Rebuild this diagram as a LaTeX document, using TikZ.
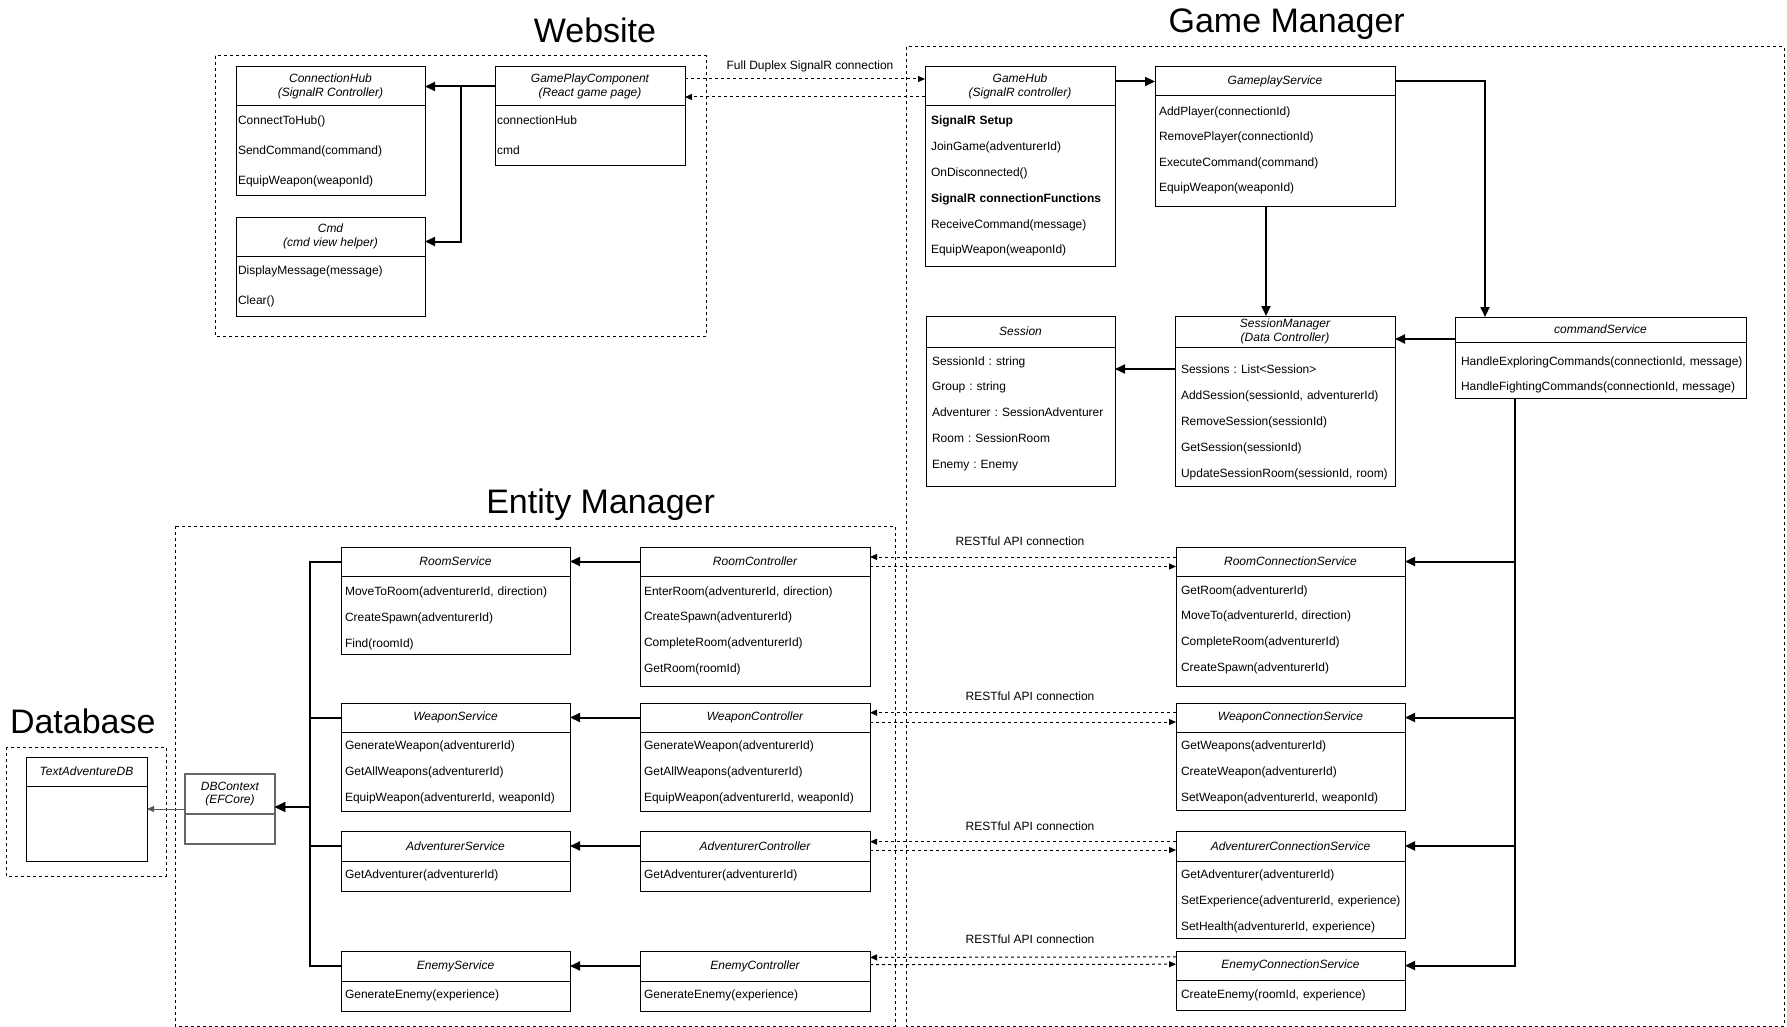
\documentclass[tikz,border=0pt]{standalone}
\usepackage{fontspec}
\setmainfont{Liberation Sans}
\usepackage{tikz}
\usetikzlibrary{arrows.meta}

\tikzset{
  rowtop/.store in=\rowtop, rowgap/.store in=\rowgap, rowpad/.store in=\rowpad,
  rowtop=18, rowgap=26, rowpad=4,
  classhead/.style={draw, line width=1pt, outer sep=0pt, inner sep=0pt, align=center,
    font=\fontsize{12}{13.5}\selectfont\itshape},
  classbody/.style={draw, line width=1pt, outer sep=0pt, inner sep=0pt},
  classrows/.style={inner sep=0pt, outer sep=0pt, align=left, text width=400pt,
    font=\fontsize{12}{\rowgap}\selectfont\frenchspacing},
  groupframe/.style={draw, line width=1pt, dash pattern=on 3pt off 3pt},
  grouptitle/.style={anchor=base, font=\fontsize{34}{40}\selectfont},
  linklabel/.style={font=\fontsize{12}{14}\selectfont},
  thickarrow/.style={line width=2pt, -{Triangle[length=10pt,width=9pt]}},
  duplexarrow/.style={line width=1pt, dash pattern=on 3pt off 3pt, -{Triangle[length=7pt,width=6pt]}},
  dbarrow/.style={line width=1pt, draw=black!65, -{Triangle[length=7pt,width=6pt]}},
}

% [opts]{name}{x}{y}{width}{head height}{body height}{head}{rows}
\newcommand{\classbox}[9][]{%
  \begingroup
  \tikzset{rowtop=18,rowgap=26,rowpad=4,#1}%
  \node[classhead, anchor=north west, minimum width=#5pt, minimum height=#6pt] (#2) at (#3,#4) {#8};
  \node[classbody, anchor=north west, minimum width=#5pt, minimum height=#7pt] (#2-b) at (#2.south west) {};
  \node[classrows, anchor=base west] (#2-r) at ([xshift=\rowpad pt,yshift=-\rowtop pt]#2-b.north west) {#9};
  \endgroup
}

\begin{document}
\begin{tikzpicture}[x=1pt,y=-1pt]
\useasboundingbox[fill=white] (0,0) rectangle (1787,1027);

% groups
\draw[groupframe] (215,56) rectangle (706,336);
\draw[groupframe] (906,47) rectangle (1784,1026);
\draw[groupframe] (175,526) rectangle (895,1026);
\draw[groupframe] (6,747) rectangle (166,876);
\node[grouptitle] (ttlweb) at (595,42.7) {Website};
\node[grouptitle] (ttlgame) at (1286.7,32.3) {Game Manager};
\node[grouptitle] (ttlentity) at (600.6,513) {Entity Manager};
\node[grouptitle] (ttldb) at (82.8,733.3) {Database};

% website
\classbox[rowgap=30,rowtop=18.7,rowpad=2]{connhub}{236}{67}{189}{39}{90}{ConnectionHub\\(SignalR Controller)}{ConnectToHub()\\SendCommand(command)\\EquipWeapon(weaponId)}
\classbox[rowgap=30,rowtop=18.7,rowpad=2]{cmdhelp}{236}{217}{189}{39}{60}{Cmd\\(cmd view helper)}{DisplayMessage(message)\\Clear()}
\classbox[rowgap=30,rowtop=18.7,rowpad=2]{gpcomp}{495}{67}{190}{39}{60}{GamePlayComponent\\(React game page)}{connectionHub\\cmd}

% game manager
\classbox[rowtop=19,rowgap=25.8,rowpad=6]{gamehub}{925}{67}{190}{39}{160}{GameHub\\(SignalR controller)}{\textbf{SignalR Setup}\\JoinGame(adventurerId)\\OnDisconnected()\\\textbf{SignalR connectionFunctions}\\ReceiveCommand(message)\\EquipWeapon(weaponId)}
\classbox[rowtop=19.5,rowgap=25.3]{gpsvc}{1155}{67}{240}{29}{110}{GameplayService}{AddPlayer(connectionId)\\RemovePlayer(connectionId)\\ExecuteCommand(command)\\EquipWeapon(weaponId)}
\classbox[rowgap=25.8,rowpad=6]{session}{926}{316}{189}{31}{139}{Session}{SessionId : string\\Group : string\\Adventurer : SessionAdventurer\\Room : SessionRoom\\Enemy : Enemy}
\classbox[rowtop=26,rowpad=6]{smgr}{1175}{316}{220}{31}{139}{SessionManager\\(Data Controller)}{Sessions : List<Session>\\AddSession(sessionId, adventurerId)\\RemoveSession(sessionId)\\GetSession(sessionId)\\UpdateSessionRoom(sessionId, room)}
\classbox[rowtop=23,rowgap=25,rowpad=6]{cmdsvc}{1455}{317}{291}{25}{56}{commandService}{HandleExploringCommands(connectionId, message)\\HandleFightingCommands(connectionId, message)}
\classbox[rowgap=25.8,rowpad=5]{roomcon}{1176}{547}{229}{29}{110}{RoomConnectionService}{GetRoom(adventurerId)\\MoveTo(adventurerId, direction)\\CompleteRoom(adventurerId)\\CreateSpawn(adventurerId)}
\classbox[rowtop=17.4,rowgap=25.8,rowpad=5]{weapcon}{1176}{703}{229}{29}{78}{WeaponConnectionService}{GetWeapons(adventurerId)\\CreateWeapon(adventurerId)\\SetWeapon(adventurerId, weaponId)}
\classbox[rowtop=17.3,rowpad=5]{advcon}{1176}{831}{229}{30}{77}{AdventurerConnectionService}{GetAdventurer(adventurerId)\\SetExperience(adventurerId, experience)\\SetHealth(adventurerId, experience)}
\classbox[rowpad=5]{enemycon}{1176}{951}{229}{29}{30}{EnemyConnectionService}{CreateEnemy(roomId, experience)}

% entity manager
\classbox[rowtop=19,rowgap=26.3]{roomsvc}{341}{547}{229}{29}{78}{RoomService}{MoveToRoom(adventurerId, direction)\\CreateSpawn(adventurerId)\\Find(roomId)}
\classbox[rowtop=19,rowgap=25.9]{roomctl}{640}{547}{230}{29}{110}{RoomController}{EnterRoom(adventurerId, direction)\\CreateSpawn(adventurerId)\\CompleteRoom(adventurerId)\\GetRoom(roomId)}
\classbox[rowtop=17.5,rowgap=25.8]{weapsvc}{341}{703}{229}{29}{79}{WeaponService}{GenerateWeapon(adventurerId)\\GetAllWeapons(adventurerId)\\EquipWeapon(adventurerId, weaponId)}
\classbox[rowtop=17.5,rowgap=25.8]{weapctl}{640}{703}{230}{29}{79}{WeaponController}{GenerateWeapon(adventurerId)\\GetAllWeapons(adventurerId)\\EquipWeapon(adventurerId, weaponId)}
\classbox[rowtop=17.3]{advsvc}{341}{831}{229}{30}{30}{AdventurerService}{GetAdventurer(adventurerId)}
\classbox[rowtop=17.3]{advctl}{640}{831}{230}{30}{30}{AdventurerController}{GetAdventurer(adventurerId)}
\classbox[rowtop=17.3]{enemysvc}{341}{951}{229}{30}{30}{EnemyService}{GenerateEnemy(experience)}
\classbox[rowtop=17.3]{enemyctl}{640}{951}{230}{30}{30}{EnemyController}{GenerateEnemy(experience)}
\begin{scope}[classhead/.append style={draw=black!60, line width=1.5pt},
              classbody/.append style={draw=black!60, line width=1.5pt}]
\classbox{dbctx}{185}{774}{90}{40}{30}{DBContext\\(EFCore)}{}
\end{scope}

% database
\classbox{tadb}{26}{757}{121}{29}{75}{TextAdventureDB}{}

% website links
\draw[thickarrow] (gpcomp.west) -- (gpcomp.west -| connhub.east);
\draw[thickarrow] (gpcomp.west) -- ++(-34.5,0) |- ([yshift=-5pt]cmdhelp.east);
\draw[duplexarrow] ([yshift=7.5pt]gpcomp.east) -- ([yshift=7.5pt]gamehub.west);
\draw[duplexarrow] ([yshift=-10.5pt]gamehub.west) -- ([yshift=-10.5pt]gpcomp.east);
\node[linklabel] (lblduplex) at (810,66) {Full Duplex SignalR connection};

% game manager links
\coordinate (gpdown) at (1266,0);
\coordinate (gpright) at (1485,0);
\coordinate (cmdbus) at (1515,0);
\draw[thickarrow] (gamehub.east |- gpsvc.west) -- (gpsvc.west);
\draw[thickarrow] (gpsvc-b.south -| gpdown) -- (smgr.north -| gpdown);
\draw[thickarrow] (gpsvc.east) -| (cmdsvc.north -| gpright);
\draw[thickarrow] ([yshift=-9.5pt]cmdsvc.west) -- ([yshift=-9.5pt]cmdsvc.west -| smgr.east);
\draw[thickarrow] ([yshift=-22pt]smgr-b.north west) -- ([yshift=-22pt]smgr-b.north west -| session.east);
\foreach \con in {roomcon,weapcon,advcon,enemycon}
  \draw[thickarrow] (cmdsvc-b.south -| cmdbus) |- (\con.east);

% REST links
\foreach \ctl/\con/\up/\dn in {roomctl/roomcon/4.5/-5, weapctl/weapcon/4.8/-4.5, advctl/advcon/4.3/-4, enemyctl/enemycon/8.6/1.3} {
  \draw[duplexarrow] ([yshift=\up pt]\con.west) -- ([yshift=\up pt]\ctl.east);
  \draw[duplexarrow] ([yshift=\dn pt]\ctl.east) -- ([yshift=\dn pt]\con.west);
}
\foreach \n/\x/\y in {room/1020/541, weapon/1030/696, adv/1030/826, enemy/1030/939}
  \node[linklabel] (lbl\n) at (\x,\y) {RESTful API connection};

% entity links
\foreach \ctl/\svc in {roomctl/roomsvc, weapctl/weapsvc, advctl/advsvc, enemyctl/enemysvc}
  \draw[thickarrow] (\ctl.west) -- (\svc.east);
\foreach \svc in {roomsvc, weapsvc, advsvc, enemysvc}
  \draw[thickarrow] (\svc.west) -| ([xshift=35pt,yshift=-13pt]dbctx.east) -- ([yshift=-13pt]dbctx.east);
\draw[dbarrow] ([yshift=-15pt]dbctx.west) -- ([yshift=-15pt]dbctx.west -| tadb.east);
\end{tikzpicture}
\end{document}
